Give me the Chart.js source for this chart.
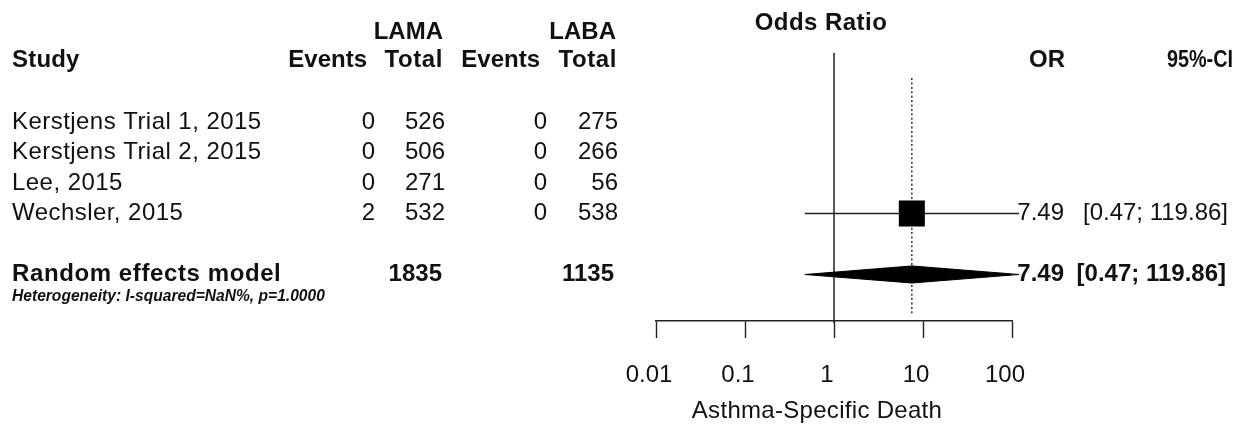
<!DOCTYPE html>
<html>
<head>
<meta charset="utf-8">
<script src="https://cdn.jsdelivr.net/npm/chart.js@4.4.1/dist/chart.umd.min.js"></script>
<style>
  html, body { margin: 0; padding: 0; background: #fff; }
  #wrap { width: 1236px; height: 427px; position: relative; }
</style>
</head>
<body>
<div id="wrap"><canvas id="c" width="1236" height="427"></canvas></div>
<script>
// ---------- data ----------
const studies      = ["Kerstjens Trial 1, 2015", "Kerstjens Trial 2, 2015", "Lee, 2015", "Wechsler, 2015"];
const lamaEvents   = [0, 0, 0, 2];
const lamaTotal    = [526, 506, 271, 532];
const labaEvents   = [0, 0, 0, 0];
const labaTotal    = [275, 266, 56, 538];
const studyOR      = [null, null, null, 7.49];
const studyLower   = [null, null, null, 0.47];
const studyUpper   = [null, null, null, 119.86];
const pooledOR     = [7.49];
const pooledLower  = [0.47];
const pooledUpper  = [119.86];
const pooledTotals = [1835, 1135];
const tickValues   = [0.01, 0.1, 1, 10, 100];
const tickLabels   = ["0.01", "0.1", "1", "10", "100"];
const heterogeneityText = "Heterogeneity: I-squared=NaN%, p=1.0000";
const axisTitle = "Asthma-Specific Death";

// ---------- layout constants ----------
const FONT = '"Liberation Sans", Arial, Helvetica, sans-serif';
const TXT = '#111';
const ROW_POOLED = 5;
const ROW_HET = 5.73;
const fmt = v => v.toFixed(2);

// ---------- datasets ----------
const datasets = [];
// vertical reference line at OR = 1
datasets.push({
  data: [{x: 1, y: -2.26}, {x: 1, y: 6.6}],
  showLine: true, borderColor: '#222', borderWidth: 1.5, pointRadius: 0, clip: false, order: 5
});
// dotted line at pooled estimate
datasets.push({
  data: [{x: pooledOR[0], y: -1.44}, {x: pooledOR[0], y: 6.33}],
  showLine: true, borderColor: '#333', borderWidth: 1.5, borderDash: [2, 2.4], pointRadius: 0, clip: false, order: 5
});
// study CIs and squares
studyOR.forEach((v, i) => {
  if (v == null) return;
  datasets.push({
    data: [{x: studyLower[i], y: i}, {x: studyUpper[i], y: i}],
    showLine: true, borderColor: '#222', borderWidth: 1.4, pointRadius: 0, clip: false, order: 4
  });
  datasets.push({
    data: [{x: v, y: i}],
    showLine: false, pointStyle: 'rect', pointRadius: 18.4, pointBackgroundColor: '#000',
    pointBorderWidth: 0, pointBorderColor: '#000', clip: false, order: 1
  });
});
// pooled diamond
const dh = 0.28;
datasets.push({
  data: [
    {x: pooledLower[0], y: ROW_POOLED},
    {x: pooledOR[0], y: ROW_POOLED - dh},
    {x: pooledUpper[0], y: ROW_POOLED},
    {x: pooledOR[0], y: ROW_POOLED + dh},
    {x: pooledLower[0], y: ROW_POOLED}
  ],
  showLine: true, fill: 'shape', backgroundColor: '#000', borderColor: '#000', borderWidth: 1,
  pointRadius: 0, tension: 0, clip: false, order: 1
});

// ---------- text plugin ----------
const textPlugin = {
  id: 'forestText',
  afterDraw(chart) {
    const ctx = chart.ctx;
    const ys = chart.scales.y;
    const py = r => ys.getPixelForValue(r);
    function t(str, x, y, align, weight, size, style, maxW, spacing) {
      ctx.save();
      ctx.fillStyle = TXT;
      ctx.font = (style || 'normal') + ' ' + (weight || 'normal') + ' ' + (size || 24) + 'px ' + FONT;
      ctx.textAlign = align || 'left';
      ctx.textBaseline = 'middle';
      if (spacing && 'letterSpacing' in ctx) ctx.letterSpacing = spacing + 'px';
      if (maxW) ctx.fillText(str, x, y, maxW); else ctx.fillText(str, x, y);
      ctx.restore();
    }
    const LS = 0.45;
    // headers
    t("LAMA", 443, py(-2.95), 'right', 'bold');
    t("LABA", 616, py(-2.95), 'right', 'bold');
    t("Odds Ratio", 821, py(-3.23), 'center', 'bold', 24, 'normal', null, LS);
    t("Study", 12, py(-2.03), 'left', 'bold', 24, 'normal', null, 0.2);
    t("Events", 367, py(-2.03), 'right', 'bold');
    t("Total", 443, py(-2.03), 'right', 'bold', 24, 'normal', null, 0.6);
    t("Events", 540, py(-2.03), 'right', 'bold');
    t("Total", 617, py(-2.03), 'right', 'bold', 24, 'normal', null, 0.6);
    t("OR", 1065, py(-2.03), 'right', 'bold');
    t("95%-CI", 1233, py(-2.03), 'right', 'bold', 24, 'normal', 66);
    // study rows
    studies.forEach((s, i) => {
      const y = py(i);
      t(s, 12, y, 'left', 'normal', 24, 'normal', null, LS);
      t(String(lamaEvents[i]), 375, y, 'right');
      t(String(lamaTotal[i]), 445, y, 'right');
      t(String(labaEvents[i]), 547, y, 'right');
      t(String(labaTotal[i]), 618, y, 'right');
      if (studyOR[i] != null) {
        t(fmt(studyOR[i]), 1064, y, 'right');
        t('[' + fmt(studyLower[i]) + '; ' + fmt(studyUpper[i]) + ']', 1228, y, 'right');
      }
    });
    // pooled row
    const yp = py(ROW_POOLED);
    t("Random effects model", 12, yp, 'left', 'bold', 24, 'normal', null, 0.6);
    t(String(pooledTotals[0]), 442, yp, 'right', 'bold');
    t(String(pooledTotals[1]), 614, yp, 'right', 'bold');
    t(fmt(pooledOR[0]), 1064, yp, 'right', 'bold');
    t('[' + fmt(pooledLower[0]) + '; ' + fmt(pooledUpper[0]) + ']', 1226, yp, 'right', 'bold');
    t(heterogeneityText, 12, py(ROW_HET), 'left', 'bold', 15.6, 'italic');
    // axis title
    t(axisTitle, 817, 411, 'center', 'normal', 24, 'normal', null, 0.3);
  }
};

new Chart(document.getElementById('c'), {
  type: 'scatter',
  data: { datasets },
  options: {
    responsive: false,
    animation: false,
    devicePixelRatio: 1,
    layout: { autoPadding: false, padding: { left: 656, right: 224, top: 0, bottom: 0 } },
    plugins: { legend: { display: false }, tooltip: { enabled: false } },
    scales: {
      x: {
        type: 'logarithmic',
        position: 'bottom',
        min: 0.01,
        max: 100,
        afterBuildTicks: s => { s.ticks = tickValues.map(v => ({ value: v })); },
        afterFit: s => { s.height = 106; },
        border: { display: true, color: '#222', width: 1.4 },
        grid: { display: true, drawOnChartArea: false, drawTicks: true, tickLength: 17, tickColor: '#222', tickWidth: 1.4 },
        ticks: {
          autoSkip: false, maxRotation: 0, minRotation: 0, padding: 23, labelOffset: -7,
          color: TXT, font: { family: FONT, size: 24 },
          callback: (v, i) => tickLabels[i]
        }
      },
      y: {
        type: 'linear',
        display: false,
        reverse: true,
        min: -4,
        max: 6.525
      }
    }
  },
  plugins: [textPlugin]
});
</script>
</body>
</html>
